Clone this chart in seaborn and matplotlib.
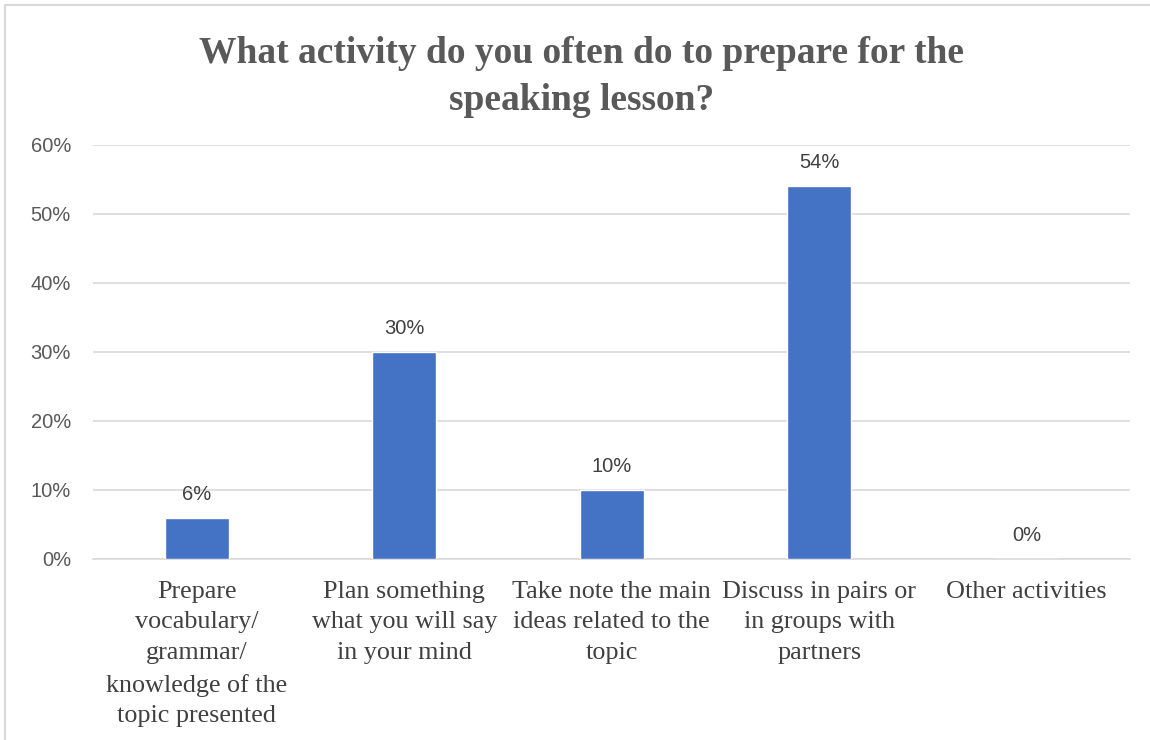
import matplotlib
matplotlib.use("Agg")
import matplotlib.pyplot as plt
import seaborn as sns
import pandas as pd
from matplotlib.patches import Rectangle

categories = [
    "Prepare\nvocabulary/\ngrammar/\nknowledge of the\ntopic presented",
    "Plan something\nwhat you will say\nin your mind",
    "Take note the main\nideas related to the\ntopic",
    "Discuss in pairs or\nin groups with\npartners",
    "Other activities",
]
values = [6, 30, 10, 54, 0]
y_ticks = [0, 10, 20, 30, 40, 50, 60]
title = "What activity do you often do to prepare for the\nspeaking lesson?"

sns.set_theme(style="white")
plt.rcParams["font.family"] = ["Liberation Sans", "DejaVu Sans"]

df = pd.DataFrame({"activity": categories, "share": values})

fig = plt.figure(figsize=(11.5, 7.4), dpi=100)
ax = fig.add_axes([0.081, 0.2446, 0.902, 0.5596])

sns.barplot(data=df, x="activity", y="share", color="#4472C4",
            width=0.31, saturation=1, ax=ax, zorder=3)

ax.set_ylim(0, 60)
ax.set_xlim(-0.5, len(categories) - 0.5)
ax.set_yticks(y_ticks)
ax.set_yticklabels([f"{t}%" for t in y_ticks], fontsize=14.5, color="#595959")
ax.yaxis.grid(True, color="#D9D9D9", linewidth=1.2, zorder=0)
ax.xaxis.grid(False)
for s in ["top", "right", "left"]:
    ax.spines[s].set_visible(False)
ax.spines["bottom"].set_color("#D9D9D9")
ax.spines["bottom"].set_linewidth(1.2)
ax.tick_params(axis="both", length=0)
ax.tick_params(axis="y", pad=16)
ax.tick_params(axis="x", pad=15.5)
ax.set_xlabel("")
ax.set_ylabel("")
for lbl in ax.get_xticklabels():
    lbl.set_fontfamily(["Liberation Serif", "DejaVu Serif"])
    lbl.set_fontsize(18.8)
    lbl.set_color("#404040")
    lbl.set_verticalalignment("top")
    lbl.set_linespacing(1.52)

for i, v in enumerate(values):
    ax.annotate(f"{v}%", (i, v), xytext=(0, 10), textcoords="offset points",
                ha="center", va="bottom", fontsize=14.5, color="#404040")

fig.text(0.506, 0.951, title, ha="center", va="top",
         fontfamily=["Liberation Serif", "DejaVu Serif"], fontweight="bold",
         fontsize=27, color="#595959", linespacing=1.45)

fig.patches.append(Rectangle((5 / 1150, -0.01), 1.2, 1 - 5 / 740 + 0.01,
                             transform=fig.transFigure, fill=False,
                             edgecolor="#D9D9D9", linewidth=1.5))

fig.savefig("out.png", dpi=100)
